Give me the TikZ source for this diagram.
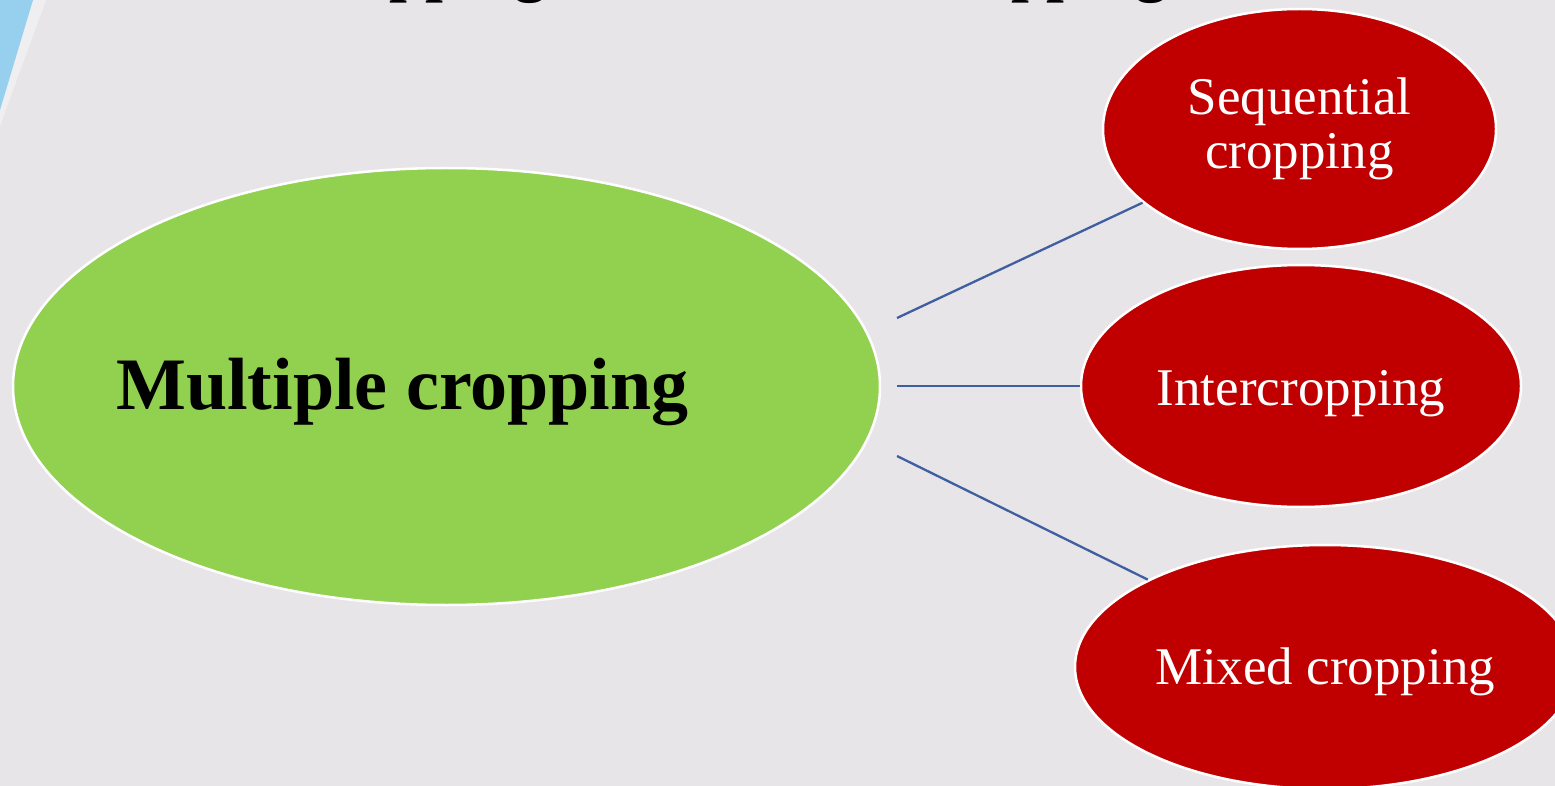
\documentclass[tikz,border=0pt]{standalone}
\usepackage{fontspec}
\setmainfont{Liberation Serif}
\usetikzlibrary{shapes.geometric}
\definecolor{bg}{RGB}{231,229,232}
\definecolor{leaf}{RGB}{146,208,80}
\definecolor{crimson}{RGB}{192,0,0}
\definecolor{linkblue}{RGB}{63,95,160}
\definecolor{streak}{RGB}{150,208,238}
\tikzset{
  bigoval/.style={ellipse, draw=white, line width=2.5pt, fill=leaf, inner sep=0pt},
  redoval/.style={ellipse, draw=white, line width=2.5pt, fill=crimson, inner sep=0pt,
    text=white, font=\fontsize{53}{54}\selectfont},
  connector/.style={draw=linkblue, line width=2.3pt}
}
\begin{document}
\begin{tikzpicture}[x=1pt,y=-1pt]
\useasboundingbox (0,0) rectangle (1555,786);
\begin{scope}
\clip (0,0) rectangle (1555,786);
\fill[bg] (0,0) rectangle (1555,786);
\fill[white,opacity=0.35] (33,0) -- (46,0) -- (0,126) -- (0,110) -- cycle;
\fill[streak] (0,0) -- (33,0) -- (0,110) -- cycle;
\node[anchor=base west, inner sep=0pt, font=\bfseries\fontsize{64}{70}\selectfont] (title) at (284,-10.5) {Cropping Modes: Intercropping};
\node[bigoval, minimum width=867pt, minimum height=437pt] (multi) at (446.5,386.5) {};
\node[inner sep=0pt, font=\bfseries\fontsize{74}{80}\selectfont] (mtext) at (402.5,392) {Multiple cropping};
\node[redoval, align=center, minimum width=393pt, minimum height=240pt] (seq) at (1299.5,129) {Sequential\\cropping};
\node[redoval, text height=38pt, text depth=0pt, minimum width=440pt, minimum height=242pt] (inter) at (1301,386) {Intercropping};
\node[redoval, text height=34pt, text depth=0pt, minimum width=500pt, minimum height=244pt] (mixed) at (1325,667) {Mixed cropping};
\coordinate (s1) at (897,318);
\coordinate (s2) at (897,386);
\coordinate (s3) at (897,456);
\draw[connector] (s1) -- (seq);
\draw[connector] (s2) -- (inter);
\draw[connector] (s3) -- (mixed);
\end{scope}
\end{tikzpicture}
\end{document}
